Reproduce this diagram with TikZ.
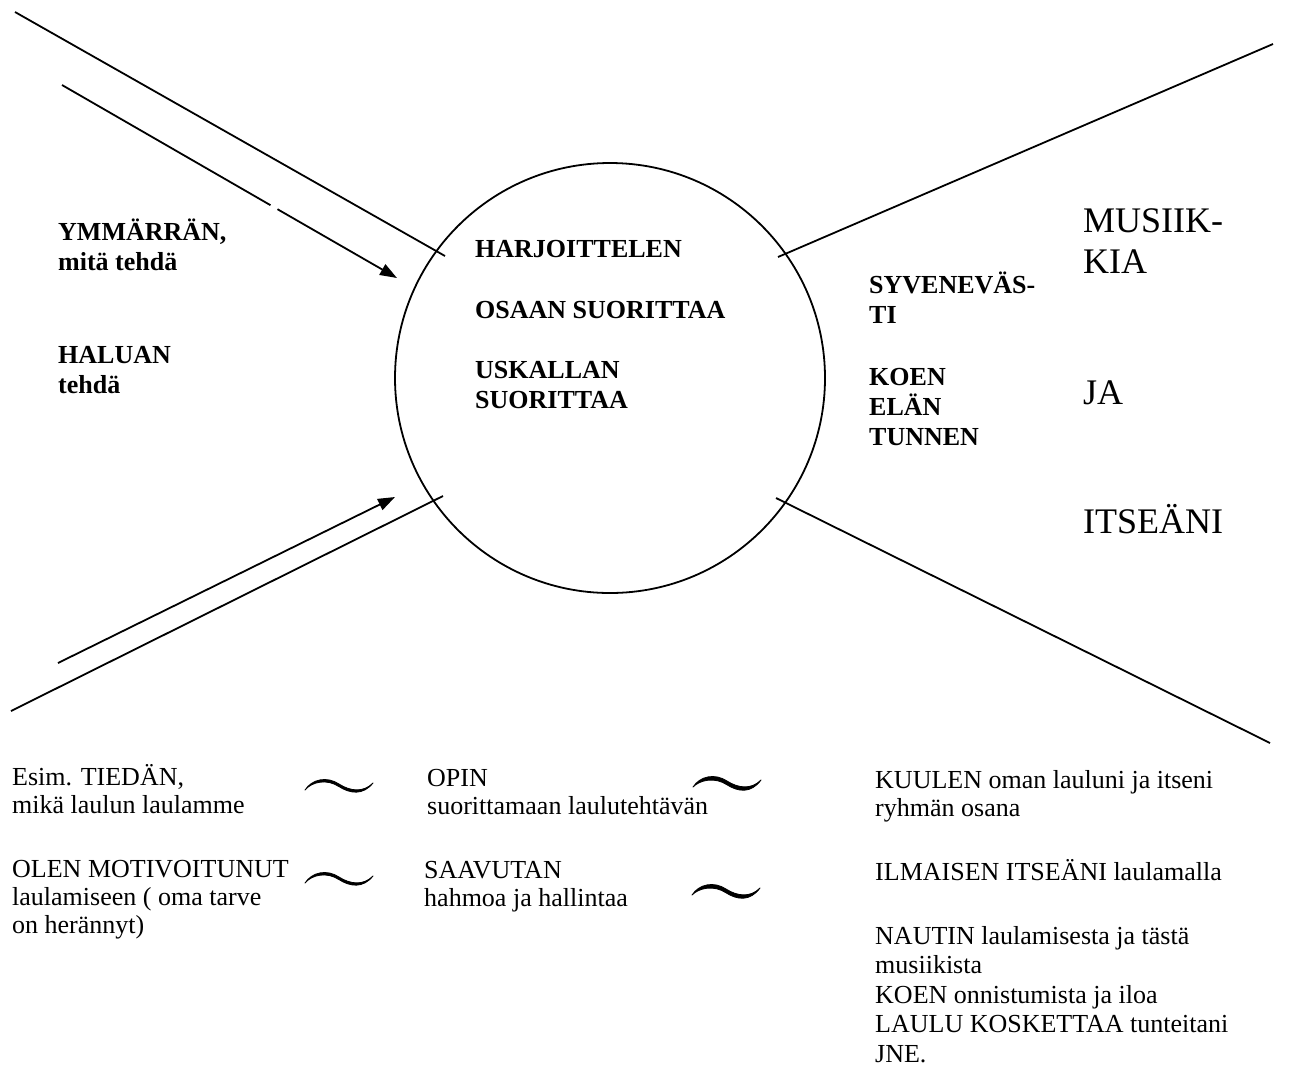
\documentclass[tikz,border=0pt]{standalone}
\usepackage{fontspec}
\setmainfont{Liberation Serif}
\usetikzlibrary{arrows.meta}

% stack of lines whose reference point is the baseline of the first line
\newcommand\stacklines[1]{\vtop{\def\\{\egroup\hbox\bgroup}\hbox\bgroup#1\egroup}}

\tikzset{
  stroke/.style={line width=1.8pt, black},
  arrowline/.style={stroke, -{Triangle[length=17pt,width=12pt]}},
  boldtxt/.style={anchor=base west, inner sep=0pt, font=\fontsize{26}{30}\selectfont\bfseries},
  bigtxt/.style={anchor=base west, inner sep=0pt, font=\fontsize{36}{41}\selectfont},
  plaintxt/.style={anchor=base west, inner sep=0pt, font=\fontsize{26}{28}\selectfont},
  % brush-like wave, tapered at both ends; the argument sets its thickness
  swung/.pic={\filldraw[line width=0.8pt, line join=round, line cap=round]
      (0,0) .. controls (7,-11) and (22,-14) .. (34,-6)
            .. controls (45,1) and (58,3) .. (68,-7)
            .. controls (58,{3+#1}) and (45,{1+#1}) .. (34,{-6+#1})
            .. controls (22,{-14+#1}) and (7,{-11+#1}) .. (0,0) -- cycle;}
}

\begin{document}
\begin{tikzpicture}[x=1pt,y=-1pt]
  \fill[white] (0,0) rectangle (1289,1072);
  \useasboundingbox (0,0) rectangle (1289,1072);

  % central circle
  \node[circle, draw, stroke, minimum size=430pt, inner sep=0pt] (ring) at (610,378) {};

  % end points of the rays
  \coordinate (tlA) at (15,12);   \coordinate (tlB) at (445,256);
  \coordinate (blA) at (11,711);  \coordinate (blB) at (443,496);
  \coordinate (trA) at (778,257); \coordinate (trB) at (1273,44);
  \coordinate (brA) at (776,498); \coordinate (brB) at (1270,743);
  \coordinate (taS) at (62,85);   \coordinate (taG1) at (270.5,205.2);
  \coordinate (taG2) at (277.5,209.2); \coordinate (taE) at (397,278);
  \coordinate (baS) at (58,663);  \coordinate (baE) at (395,497);

  \draw[stroke] (tlA) -- (tlB);
  \draw[stroke] (blA) -- (blB);
  \draw[stroke] (trA) -- (trB);
  \draw[stroke] (brA) -- (brB);
  \draw[stroke] (taS) -- (taG1);
  \draw[arrowline] (taG2) -- (taE);
  \draw[arrowline] (baS) -- (baE);

  % left labels
  \node[boldtxt] (ymm) at (58,240) {\stacklines{YMMÄRRÄN,\\mitä tehdä}};
  \node[boldtxt] (hal) at (58,363) {\stacklines{HALUAN\\tehdä}};

  % inside the circle
  \node[boldtxt] (harj) at (475,257) {HARJOITTELEN};
  \node[boldtxt] (osaa) at (475,318) {OSAAN SUORITTAA};
  \node[boldtxt] (uska) at (475,378) {\stacklines{USKALLAN\\SUORITTAA}};

  % right labels
  \node[boldtxt] (syv) at (869,293) {\stacklines{SYVENEVÄS-\\TI}};
  \node[boldtxt] (koe) at (869,385) {\stacklines{KOEN\\ELÄN\\TUNNEN}};
  \node[bigtxt] (mus) at (1083,232) {\stacklines{MUSIIK-\\KIA}};
  \node[bigtxt] (ja) at (1083,404) {JA};
  \node[bigtxt] (its) at (1083,533) {ITSEÄNI};

  % lower text columns
  \node[plaintxt] (esim) at (12,785) {\stacklines{Esim. TIEDÄN,\\mikä laulun laulamme}};
  \node[plaintxt] (olen) at (12,877) {\stacklines{OLEN MOTIVOITUNUT\\laulamiseen ( oma tarve\\on herännyt)}};
  \node[plaintxt] (opin) at (427,786) {\stacklines{OPIN\\suorittamaan laulutehtävän}};
  \node[plaintxt] (saav) at (424,878) {\stacklines{SAAVUTAN\\hahmoa ja hallintaa}};
  \node[plaintxt] (kuul) at (875,788) {\stacklines{KUULEN oman lauluni ja itseni\\ryhmän osana}};
  \node[plaintxt] (ilma) at (875,880) {ILMAISEN ITSEÄNI laulamalla};
  \node[plaintxt, font=\fontsize{26}{29.5}\selectfont] (naut) at (875,944)
    {\stacklines{NAUTIN laulamisesta ja tästä\\musiikista\\KOEN onnistumista ja iloa\\LAULU KOSKETTAA tunteitani\\JNE.}};

  % wavy marks between the columns
  \pic at (305,790) {swung=2.6};
  \pic at (305,883) {swung=2.6};
  \pic at (693,787) {swung=3.8};
  \pic at (692,895) {swung=3.8};
\end{tikzpicture}
\end{document}
